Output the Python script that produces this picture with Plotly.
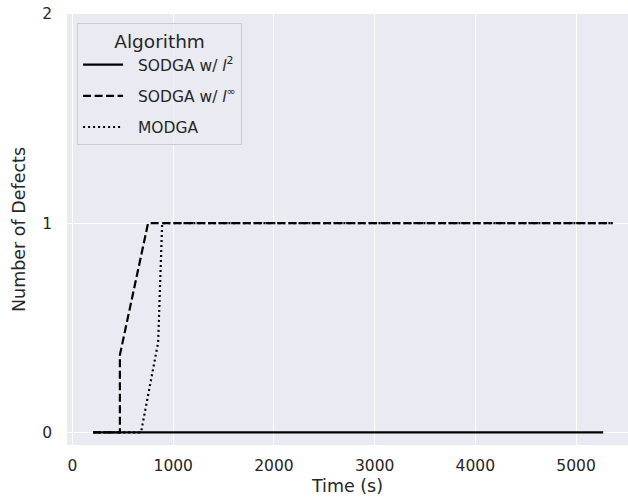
import plotly.graph_objects as go

# Data
l2_time = [205, 5270]
l2_defects = [0, 0]

linf_time = [205, 470, 470, 750, 5365]
linf_defects = [0, 0, 0.37, 1, 1]

modga_time = [205, 680, 850, 890, 5365]
modga_defects = [0, 0, 0.43, 1, 1]

x_ticks = [0, 1000, 2000, 3000, 4000, 5000]
y_ticks = [0, 1, 2]

FONT = "DejaVu Sans"
TXT = "#262626"
PAD = "&nbsp;&nbsp;"

fig = go.Figure()
fig.add_trace(go.Scatter(x=l2_time, y=l2_defects, mode="lines",
                         name=PAD + "SODGA w/ <i>l</i><sup>2</sup>", legendgroup="a",
                         line=dict(color="black", width=2.2, dash="solid")))
fig.add_trace(go.Scatter(x=linf_time, y=linf_defects, mode="lines",
                         name=PAD + "SODGA w/ <i>l</i><sup>∞</sup>", legendgroup="b",
                         line=dict(color="black", width=2.2, dash="8px,3.5px")))
fig.add_trace(go.Scatter(x=modga_time, y=modga_defects, mode="lines",
                         name=PAD + "MODGA", legendgroup="c",
                         line=dict(color="black", width=2.2, dash="2px,3px")))

fig.update_layout(
    width=628, height=503,
    margin=dict(l=67, r=0, t=14, b=58),
    paper_bgcolor="white",
    plot_bgcolor="#EAEAF2",
    font=dict(family=FONT, color=TXT, size=15.5),
    showlegend=True,
    legend=dict(
        x=0.018, y=0.979, xanchor="left", yanchor="top",
        bgcolor="rgba(234,234,242,0.8)",
        bordercolor="#CCCCCC", borderwidth=1,
        title=dict(text="Algorithm", side="top center", font=dict(size=18.5, color=TXT)),
        font=dict(size=15.5, color=TXT),
        tracegroupgap=8,
        itemwidth=40,
    ),
    xaxis=dict(
        range=[-55, 5516],
        tickvals=x_ticks,
        ticktext=[str(v) for v in x_ticks],
        showgrid=True, gridcolor="white", gridwidth=1.2,
        zeroline=False, showline=False,
        ticks="", ticklabelstandoff=9,
        tickfont=dict(size=15.5, color=TXT),
        title=dict(text="Time (s)", font=dict(size=17.5, color=TXT), standoff=6),
    ),
    yaxis=dict(
        range=[-0.06, 2],
        tickvals=y_ticks,
        ticktext=[str(v) for v in y_ticks],
        showgrid=True, gridcolor="white", gridwidth=1.2,
        zeroline=False, showline=False,
        ticks="", ticklabelstandoff=14,
        tickfont=dict(size=15.5, color=TXT),
        title=dict(text="Number of Defects", font=dict(size=17.5, color=TXT), standoff=12),
    ),
)

fig.write_html("out.html")
